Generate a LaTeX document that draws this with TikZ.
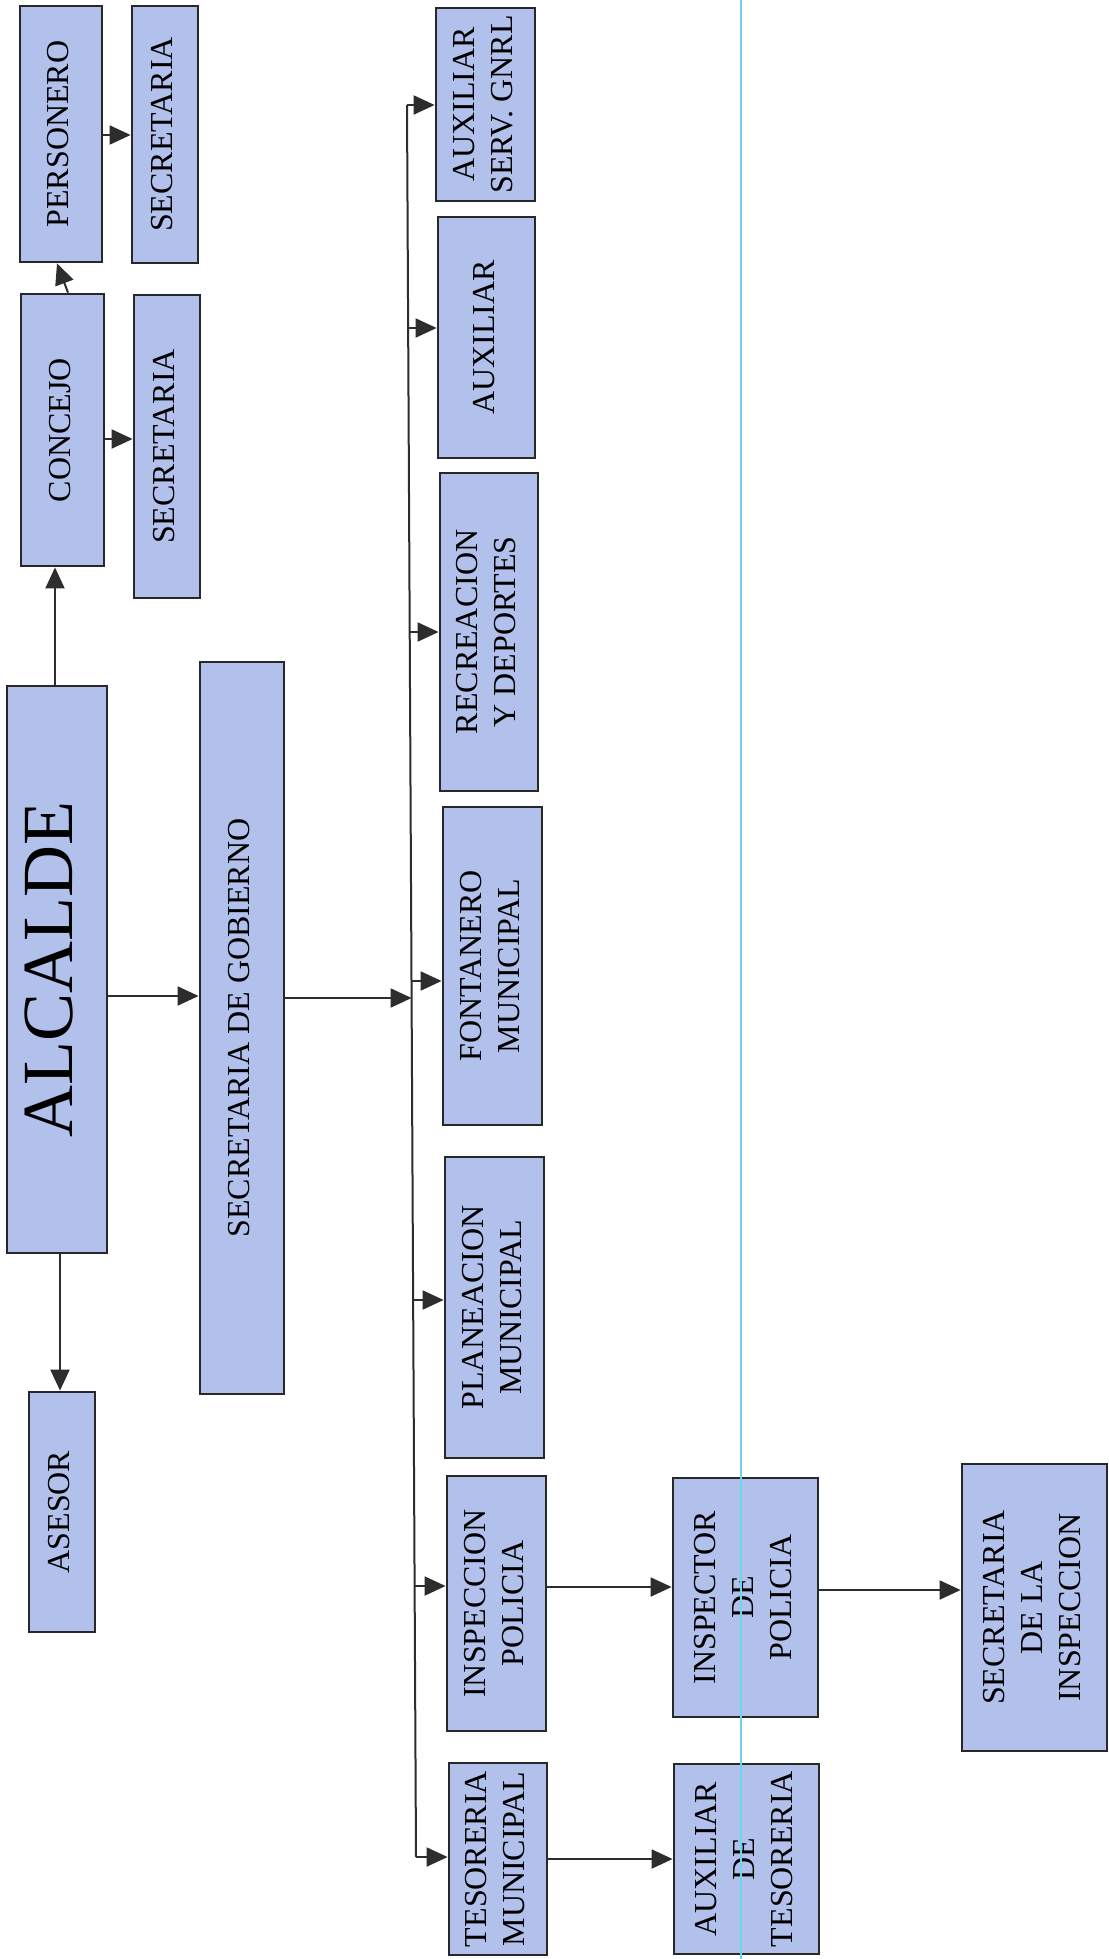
\documentclass[tikz,border=0pt]{standalone}
\usepackage{fontspec}
\setmainfont{Liberation Serif}
\usetikzlibrary{arrows.meta}
\definecolor{boxfill}{RGB}{178,192,236}
\definecolor{boxline}{RGB}{40,40,40}
\definecolor{arrcol}{RGB}{45,45,45}
\definecolor{guidecol}{RGB}{110,212,236}
\newcommand{\rottext}[1]{\rotatebox{90}{\begin{tabular}{@{}c@{}}#1\end{tabular}}}
\tikzset{
  orgbox/.style={draw=boxline, fill=boxfill, line width=2.8pt, inner sep=0pt, rectangle,
    text=black, font=\fontsize{32}{38}\selectfont},
  bigbox/.style={orgbox, font=\fontsize{72}{80}\selectfont},
  arr/.style={draw=arrcol, line width=2pt, -{Triangle[length=21pt,width=19pt]}},
  plainline/.style={draw=arrcol, line width=2pt},
  guideline/.style={draw=guidecol, line width=1.5pt}
}
\begin{document}
\begin{tikzpicture}[x=1pt,y=-1pt]
\useasboundingbox[fill=white] (0,0) rectangle (1108,1959);

% boxes
\node[orgbox, minimum width=82pt, minimum height=256pt] (pers) at (61,134) {\rottext{PERSONERO}};
\node[orgbox, minimum width=66pt, minimum height=257pt] (sec1) at (165,134.5) {\rottext{SECRETARIA}};
\node[orgbox, minimum width=83pt, minimum height=272pt] (conc) at (62.5,430) {\rottext{CONCEJO}};
\node[orgbox, minimum width=66pt, minimum height=303pt] (sec2) at (167,446.5) {\rottext{SECRETARIA}};
\node[bigbox, minimum width=100pt, minimum height=567pt] (alc) at (57,969.5) {\rottext{ALCALDE}};
\node[orgbox, minimum width=66pt, minimum height=240pt] (ases) at (62,1512) {\rottext{ASESOR}};
\node[orgbox, minimum width=84pt, minimum height=732pt] (sg) at (242,1028) {\rottext{SECRETARIA DE GOBIERNO}};

\node[orgbox, minimum width=99pt, minimum height=193pt] (aux2) at (485.5,104.5) {\rottext{AUXILIAR\\SERV. GNRL}};
\node[orgbox, minimum width=97pt, minimum height=241pt] (aux1) at (486.5,337.5) {\rottext{AUXILIAR}};
\node[orgbox, minimum width=98pt, minimum height=318pt] (rec) at (489,632) {\rottext{RECREACION\\Y DEPORTES}};
\node[orgbox, minimum width=99pt, minimum height=318pt] (fon) at (492.5,966) {\rottext{FONTANERO\\MUNICIPAL}};
\node[orgbox, minimum width=99pt, minimum height=301pt] (pla) at (494.5,1307.5) {\rottext{PLANEACION\\MUNICIPAL}};
\node[orgbox, minimum width=99pt, minimum height=255pt] (ins) at (496.5,1603.5) {\rottext{INSPECCION\\POLICIA}};
\node[orgbox, minimum width=98pt, minimum height=192pt] (tes) at (498,1859) {\rottext{TESORERIA\\MUNICIPAL}};

\node[orgbox, minimum width=145pt, minimum height=239pt] (insp) at (745.5,1597.5) {\rottext{INSPECTOR\\DE\\POLICIA}};
\node[orgbox, minimum width=145pt, minimum height=190pt] (auxt) at (746.5,1859) {\rottext{AUXILIAR\\DE\\TESORERIA}};
\node[orgbox, minimum width=145pt, minimum height=287pt] (seci) at (1034.5,1607.5) {\rottext{SECRETARIA\\DE LA\\INSPECCION}};

% helper coordinates
\coordinate (xac) at (55,0);
\coordinate (xas) at (60,0);
\coordinate (cp1) at (68,0);
\coordinate (cp2) at (57,0);
\coordinate (y135) at (0,135);
\coordinate (y439) at (0,439);
\coordinate (y996) at (0,996);
\coordinate (y1587) at (0,1587);
\coordinate (y1590) at (0,1590);
\coordinate (y1859) at (0,1859);

% bus
\coordinate (btop) at (407,105);
\coordinate (bbot) at (416,1857);
\coordinate (bsg) at (411.6,998);
\coordinate (bus1) at (408.1,328);
\coordinate (bus2) at (409.7,632);
\coordinate (bus3) at (411.5,981);
\coordinate (bus4) at (413.1,1300);
\coordinate (bus5) at (414.6,1586);

% connectors
\draw[arr] (alc.north -| xac) -- (conc.south -| xac);
\draw[arr] (conc.north -| cp1) -- (pers.south -| cp2);
\draw[arr] (pers.east |- y135) -- (sec1.west |- y135);
\draw[arr] (conc.east |- y439) -- (sec2.west |- y439);
\draw[arr] (alc.south -| xas) -- (ases.north -| xas);
\draw[arr] (alc.east |- y996) -- (sg.west |- y996);
\draw[arr] (sg.east |- bsg) -- (bsg);

\draw[plainline] (btop) -- (bbot);
\draw[arr] (btop) -- (aux2.west |- btop);
\draw[arr] (bus1) -- (aux1.west |- bus1);
\draw[arr] (bus2) -- (rec.west |- bus2);
\draw[arr] (bus3) -- (fon.west |- bus3);
\draw[arr] (bus4) -- (pla.west |- bus4);
\draw[arr] (bus5) -- (ins.west |- bus5);
\draw[arr] (bbot) -- (tes.west |- bbot);

\draw[arr] (ins.east |- y1587) -- (insp.west |- y1587);
\draw[arr] (insp.east |- y1590) -- (seci.west |- y1590);
\draw[arr] (tes.east |- y1859) -- (auxt.west |- y1859);

% scan guide line
\draw[guideline] (741,0) -- (741,1959);
\end{tikzpicture}
\end{document}
